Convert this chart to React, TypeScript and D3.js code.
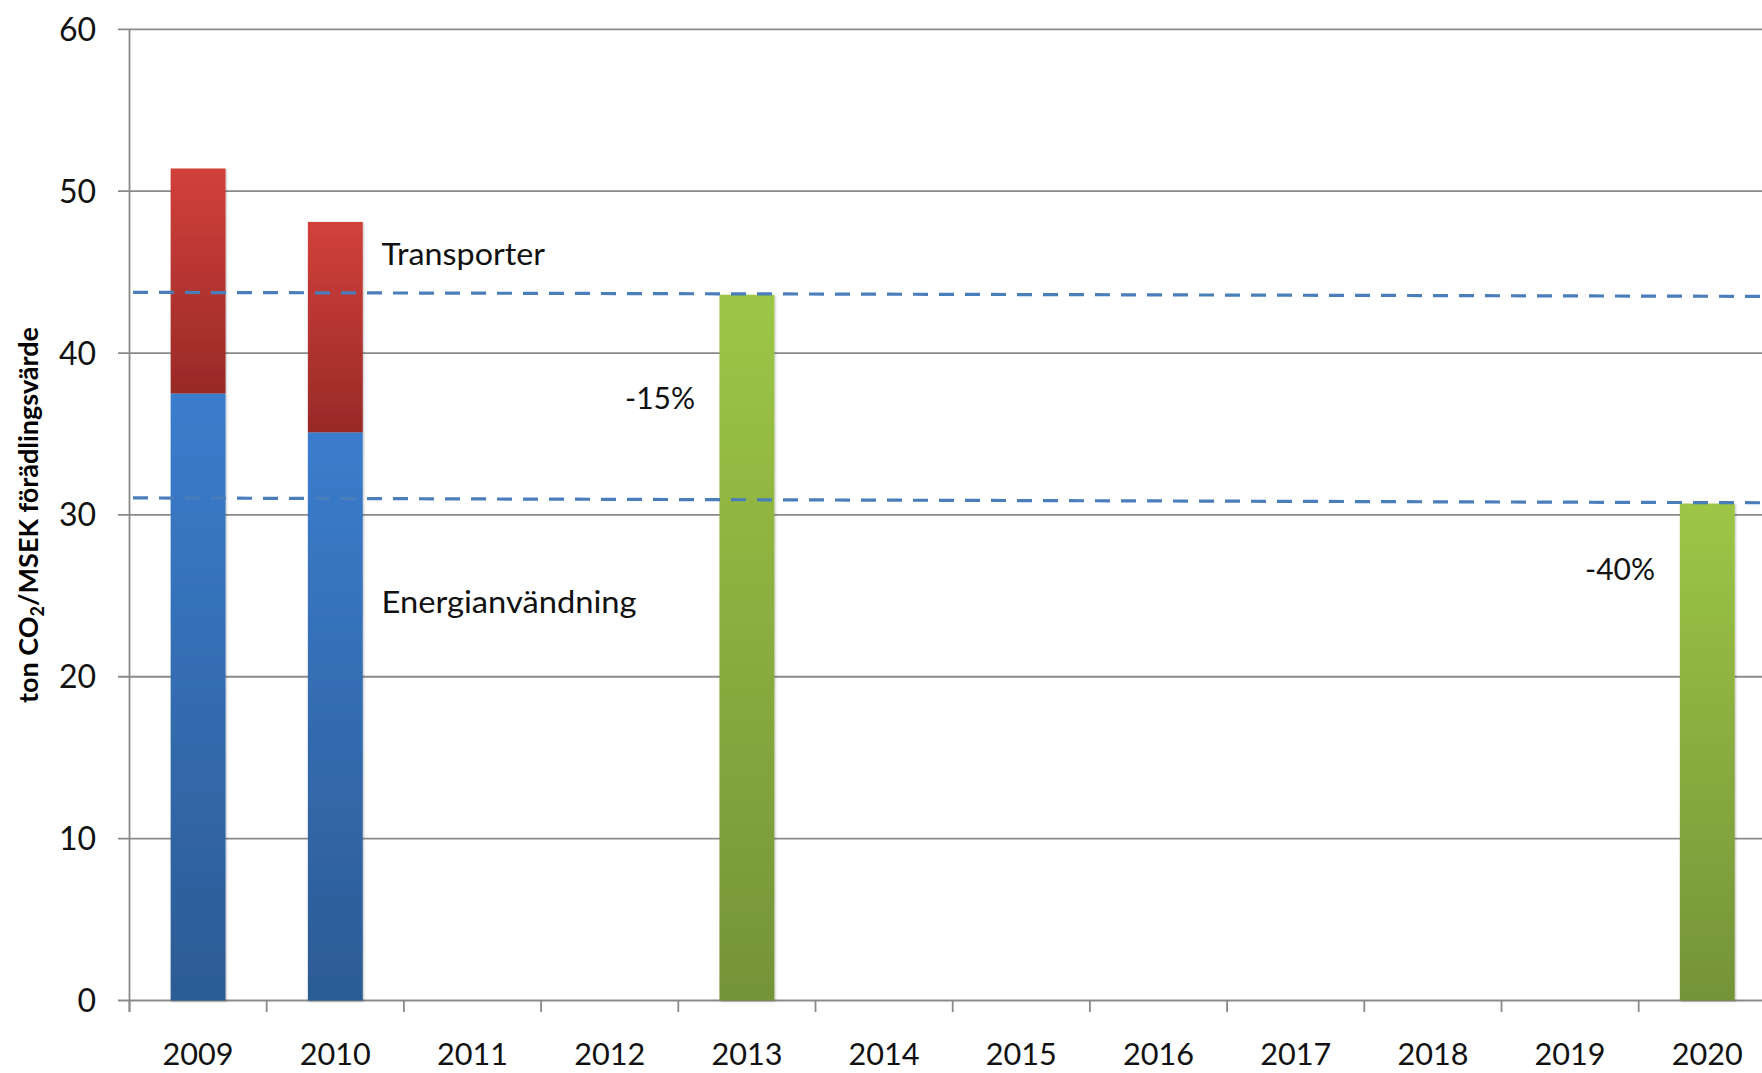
import React from "react";
import * as d3 from "d3";

const years = ["2009","2010","2011","2012","2013","2014","2015","2016","2017","2018","2019","2020"];
const energiYears = ["2009", "2010"];
const energiValues = [37.5, 35.1];
const transportValues = [13.9, 13.0];
const targetYears = ["2013", "2020"];
const targetValues = [43.6, 30.7];
const yTicks = [0, 10, 20, 30, 40, 50, 60];
// dashed reference lines: value at left end, value at right end
const refLineStart = [43.75, 31.05];
const refLineEnd = [43.5, 30.75];
const annotationTexts = ["Transporter", "Energianvändning"];
const pctTexts = ["-15%", "-40%"];
const yTitle = "ton CO";
const yTitleSub = "2";
const yTitleRest = "/MSEK förädlingsvärde";

const W = 1762;
const H = 1073;
const FONT = "Lato, 'Open Sans', sans-serif";

export default function App() {
  const x = d3.scaleBand<string>().domain(years).range([129.5, 129.5 + 12 * 137.2]).paddingInner(0).paddingOuter(0);
  const y = d3.scaleLinear().domain([0, 60]).range([1000.5, 29.3]);
  const bw = x.bandwidth() * 0.4;
  const cx = (yr: string) => (x(yr) as number) + x.bandwidth() / 2;
  const x0 = 129.5;
  const xEnd = 129.5 + 12 * 137.2;

  return (
    <svg width={W} height={H} style={{ position: "absolute", left: 0, top: 0, background: "#fff" }}>
      <defs>
        <linearGradient id="gRed" x1="0" y1="0" x2="0" y2="1">
          <stop offset="0" stopColor="#d2403b" />
          <stop offset="1" stopColor="#982a27" />
        </linearGradient>
        <linearGradient id="gBlue" x1="0" y1="0" x2="0" y2="1">
          <stop offset="0" stopColor="#3b7dcd" />
          <stop offset="1" stopColor="#2c5b94" />
        </linearGradient>
        <linearGradient id="gGreen" x1="0" y1="0" x2="0" y2="1">
          <stop offset="0" stopColor="#9dc646" />
          <stop offset="1" stopColor="#759338" />
        </linearGradient>
        <filter id="shadow" x="-20%" y="-5%" width="140%" height="110%">
          <feDropShadow dx="1" dy="1" stdDeviation="1.2" floodColor="#000" floodOpacity="0.25" />
        </filter>
      </defs>

      {/* gridlines */}
      {yTicks.map((t) => (
        <line key={"g" + t} x1={118} x2={W} y1={y(t)} y2={y(t)} stroke="#8a8a8a" strokeWidth={1.8} />
      ))}
      {/* y axis */}
      <line x1={x0} x2={x0} y1={y(60)} y2={1012} stroke="#8a8a8a" strokeWidth={1.8} />
      {/* x ticks */}
      {years.map((yr) => (
        <line key={"xt" + yr} x1={x(yr) as number} x2={x(yr) as number} y1={y(0)} y2={1012} stroke="#8a8a8a" strokeWidth={1.8} />
      ))}
      <line x1={xEnd} x2={xEnd} y1={y(0)} y2={1012} stroke="#8a8a8a" strokeWidth={1.8} />

      {/* stacked bars */}
      {energiYears.map((yr, i) => (
        <g key={"s" + yr} filter="url(#shadow)">
          <rect x={cx(yr) - bw / 2} width={bw} y={y(energiValues[i])} height={y(0) - y(energiValues[i])} fill="url(#gBlue)" />
          <rect x={cx(yr) - bw / 2} width={bw} y={y(energiValues[i] + transportValues[i])} height={y(energiValues[i]) - y(energiValues[i] + transportValues[i])} fill="url(#gRed)" />
        </g>
      ))}
      {/* target bars */}
      {targetYears.map((yr, i) => (
        <rect key={"t" + yr} filter="url(#shadow)" x={cx(yr) - bw / 2} width={bw} y={y(targetValues[i])} height={y(0) - y(targetValues[i])} fill="url(#gGreen)" />
      ))}

      {/* dashed reference lines */}
      {refLineStart.map((v, i) => (
        <line key={"r" + i} x1={133} x2={W} y1={y(v)} y2={y(refLineEnd[i])} stroke="#4a7ebb" strokeWidth={3.2} strokeDasharray="15 11" />
      ))}

      {/* y tick labels */}
      {yTicks.map((t) => (
        <text key={"yl" + t} x={96} y={y(t) + 11.5} textAnchor="end" fontFamily={FONT} fontSize={32} fill="#111">{t}</text>
      ))}
      {/* x tick labels */}
      {years.map((yr) => (
        <text key={"xl" + yr} x={cx(yr)} y={1065} textAnchor="middle" fontFamily={FONT} fontSize={31} fill="#111" textLength={71} lengthAdjust="spacingAndGlyphs">{yr}</text>
      ))}

      {/* annotations */}
      <text x={381.5} y={265} fontFamily={FONT} fontSize={30} fill="#111" textLength={163.5} lengthAdjust="spacingAndGlyphs">{annotationTexts[0]}</text>
      <text x={381.5} y={613} fontFamily={FONT} fontSize={30} fill="#111" textLength={255} lengthAdjust="spacingAndGlyphs">{annotationTexts[1]}</text>
      <text x={625} y={408.5} fontFamily={FONT} fontSize={30} fill="#111" textLength={70} lengthAdjust="spacingAndGlyphs">{pctTexts[0]}</text>
      <text x={1585} y={580} fontFamily={FONT} fontSize={30} fill="#111" textLength={70} lengthAdjust="spacingAndGlyphs">{pctTexts[1]}</text>

      {/* y axis title */}
      <text transform="translate(38,515) rotate(-90)" textAnchor="middle" fontFamily={FONT} fontWeight="bold" fontSize={27} fill="#000">
        {yTitle}
        <tspan fontSize={18} dy={6}>{yTitleSub}</tspan>
        <tspan dy={-6}>{yTitleRest}</tspan>
      </text>
    </svg>
  );
}
